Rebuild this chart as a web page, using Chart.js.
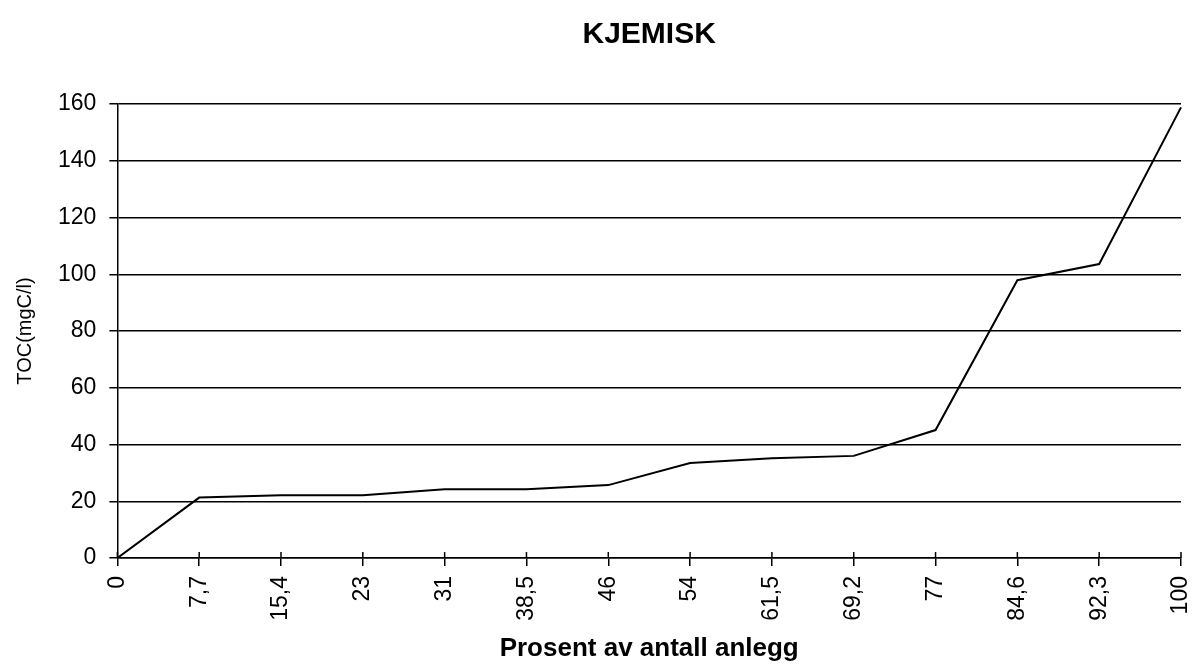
<!DOCTYPE html>
<html>
<head>
<meta charset="utf-8">
<script src="https://cdn.jsdelivr.net/npm/chart.js@4/dist/chart.umd.min.js"></script>
<style>
  html, body { margin: 0; padding: 0; background: #fff; }
  #wrap { width: 1197px; height: 666px; }
</style>
</head>
<body>
<div id="wrap"><canvas id="canvas"></canvas></div>
<script>
const percentLabels = ['0', '7,7', '15,4', '23', '31', '38,5', '46', '54', '61,5', '69,2', '77', '84,6', '92,3', '100'];
const tocValues = [0, 21.3, 22.1, 22.1, 24.2, 24.2, 25.7, 33.5, 35.2, 36, 45.1, 97.9, 103.6, 158.8];
const yTicks = [0, 20, 40, 60, 80, 100, 120, 140, 160];

// small tick marks going up into the plot, like the original axis
const crossTicks = {
  id: 'crossTicks',
  afterDraw(chart) {
    const ctx = chart.ctx;
    const xs = chart.scales.x;
    const y0 = chart.scales.y.getPixelForValue(0);
    ctx.save();
    ctx.strokeStyle = '#000';
    ctx.lineWidth = 1.5;
    for (let i = 0; i < xs.ticks.length; i++) {
      const px = xs.getPixelForTick(i);
      ctx.beginPath();
      ctx.moveTo(px, y0);
      ctx.lineTo(px, y0 - 6);
      ctx.stroke();
    }
    ctx.restore();
  }
};

const ctx = document.getElementById('canvas').getContext('2d');
new Chart(ctx, {
  type: 'line',
  data: {
    labels: percentLabels,
    datasets: [{
      data: tocValues,
      borderColor: '#000',
      borderWidth: 2,
      pointRadius: 0,
      tension: 0,
      fill: false
    }]
  },
  options: {
    responsive: true,
    maintainAspectRatio: false,
    animation: false,
    layout: { padding: { left: 13, right: 16, top: 17, bottom: 2 } },
    plugins: {
      legend: { display: false },
      tooltip: { enabled: false },
      title: {
        display: true,
        text: 'KJEMISK',
        fullSize: false,
        color: '#000',
        font: { family: 'Liberation Sans', size: 30, weight: 'bold' },
        padding: { top: 0, bottom: 51 }
      }
    },
    scales: {
      x: {
        offset: false,
        afterFit(scale) {
          // the last rotated label may hang over the plot edge
          scale.paddingRight = 0;
        },
        grid: {
          drawOnChartArea: false,
          drawTicks: true,
          tickLength: 8,
          color: '#000',
          lineWidth: 1.5
        },
        border: { display: true, color: '#000', width: 1.5 },
        ticks: {
          color: '#000',
          minRotation: 90,
          maxRotation: 90,
          autoSkip: false,
          padding: 10,
          font: { family: 'Liberation Sans', size: 23 }
        },
        title: {
          display: true,
          text: 'Prosent av antall anlegg',
          color: '#000',
          font: { family: 'Liberation Sans', size: 26, weight: 'bold' },
          padding: { top: 2, bottom: 0 }
        }
      },
      y: {
        min: 0,
        max: 160,
        afterBuildTicks(scale) {
          scale.ticks = yTicks.map(v => ({ value: v }));
        },
        grid: {
          color: '#000',
          lineWidth: 1.5,
          drawTicks: true,
          tickLength: 8
        },
        border: { display: true, color: '#000', width: 1.5 },
        ticks: {
          color: '#000',
          padding: 13,
          font: { family: 'Liberation Sans', size: 23 }
        },
        title: {
          display: true,
          text: 'TOC(mgC/l)',
          color: '#000',
          font: { family: 'Liberation Sans', size: 20 },
          padding: { top: 0, bottom: 8 }
        }
      }
    }
  },
  plugins: [crossTicks]
});
</script>
</body>
</html>
